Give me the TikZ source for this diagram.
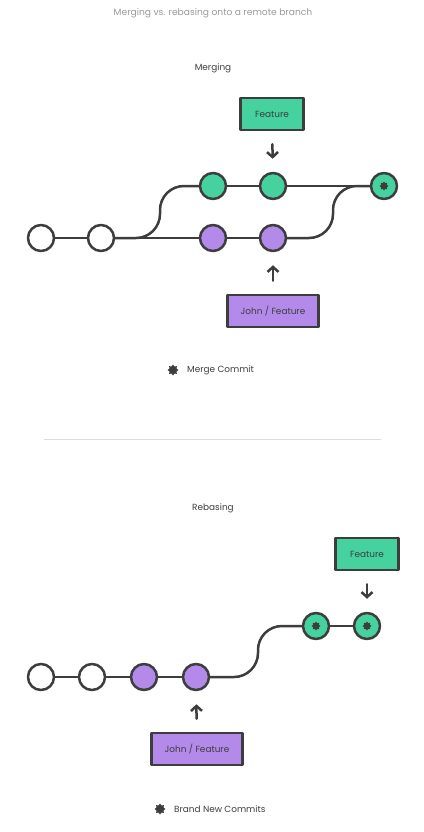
\documentclass[tikz,border=0pt]{standalone}
\usepackage{fontspec}
\setmainfont{Poppins}
\usetikzlibrary{arrows.meta,shapes.geometric,positioning}
\definecolor{ink}{HTML}{3D3D3D}
\definecolor{mint}{HTML}{45D29F}
\definecolor{lilac}{HTML}{B389EA}
\definecolor{mist}{HTML}{9A9A9A}
\definecolor{rulegray}{HTML}{DDDDDD}
\newcommand{\pxl}{0.03cm}
\tikzset{
  commit/.style={circle,draw=ink,line width=2.5*\pxl,minimum size=26*\pxl,inner sep=0pt},
  starmark/.style={star,star points=8,star point ratio=1.45,fill=ink,draw=none,minimum size=9*\pxl,inner sep=0pt},
  branch/.style={draw=ink,line width=2.5*\pxl},
  tag/.style={draw=ink,line width=2.5*\pxl,minimum height=32*\pxl,inner sep=0pt,text=ink,font=\fontsize{7.6}{9}\selectfont},
  pointer/.style={draw=ink,line width=2.5*\pxl,-{Straight Barb[length=5*\pxl,width=11*\pxl]},shorten <=13*\pxl,shorten >=13*\pxl},
  caption/.style={text=ink,font=\fontsize{7.6}{9}\selectfont,inner sep=0pt}
}
\begin{document}
\begin{tikzpicture}[x=\pxl,y=-\pxl,line join=round,line cap=round]
\useasboundingbox (0,0) rectangle (424,832);
\node[text=mist,font=\fontsize{7.8}{9}\selectfont] (title) at (213,13) {Merging vs. rebasing onto a remote branch};

% merging
\node[caption] (merging) at (213,68) {Merging};
\foreach \n/\x/\c in {w1/41/white,w2/101/white,p1/213/lilac,p2/273/lilac}{\node[commit,fill=\c] (\n) at (\x,238) {};}
\foreach \n/\x in {g1/213,g2/273,m/384}{\node[commit,fill=mint] (\n) at (\x,186) {};}
\node[starmark] (mstar) at (m) {};
\draw[branch] (w1)--(w2) (w2)--(p1) (p1)--(p2) (g1)--(g2) (g2)--(m);
\draw[branch,rounded corners=24*\pxl] (w2) -- (160,238) -- (160,186) -- (g1);
\draw[branch,rounded corners=24*\pxl] (p2) -- (333,238) -- (333,186) -- (m);
\node[tag,fill=mint,minimum width=63*\pxl] (feat) at (272,114) {Feature};
\node[tag,fill=lilac,minimum width=91*\pxl] (john) at (273,311) {John / Feature};
\draw[pointer] (feat) -- (g2);
\draw[pointer] (john) -- (p2);
\node[starmark,minimum size=11*\pxl] (key1) at (173,370) {};
\node[caption,right=8*\pxl of key1] (key1txt) {Merge Commit};

\draw[rulegray,line width=1*\pxl] (44,439) -- (381,439);

% rebasing
\node[caption] (rebasing) at (213,508) {Rebasing};
\foreach \n/\x/\c in {r1/41/white,r2/92/white,r3/144/lilac,r4/196/lilac}{\node[commit,fill=\c] (\n) at (\x,677) {};}
\foreach \n/\x in {n1/316,n2/367}{\node[commit,fill=mint] (\n) at (\x,626) {};\node[starmark] at (\n) {};}
\draw[branch] (r1)--(r2) (r2)--(r3) (r3)--(r4) (n1)--(n2);
\draw[branch,rounded corners=24*\pxl] (r4) -- (258,677) -- (258,626) -- (n1);
\node[tag,fill=mint,minimum width=63*\pxl] (feat2) at (367,554) {Feature};
\node[tag,fill=lilac,minimum width=91*\pxl] (john2) at (197,749) {John / Feature};
\draw[pointer] (feat2) -- (n2);
\draw[pointer] (john2) -- (r4);
\node[starmark,minimum size=11*\pxl] (key2) at (160,809) {};
\node[caption,right=8*\pxl of key2] (key2txt) {Brand New Commits};
\end{tikzpicture}
\end{document}
